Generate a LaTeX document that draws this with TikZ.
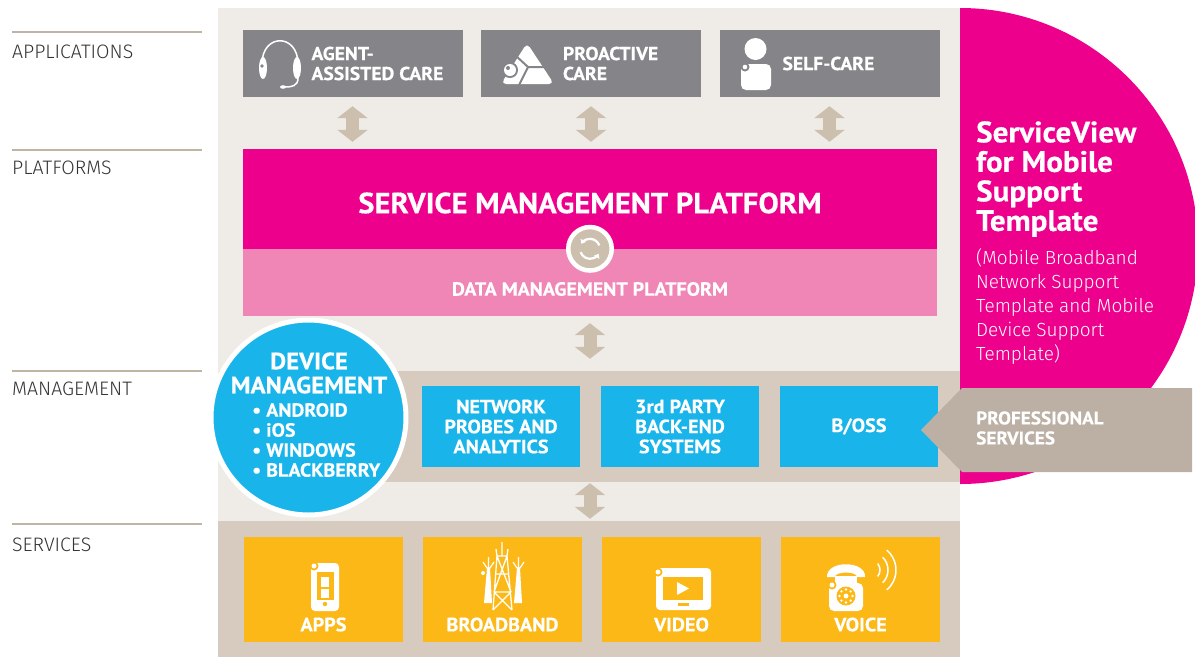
\documentclass[tikz,border=0pt]{standalone}
\usepackage{fontspec}
\setmainfont{PT Sans}[FakeStretch=1.05, BoldFeatures={FakeBold=0.4}]
\newfontfamily\lightfont{Fira Sans Light}
\usetikzlibrary{positioning,arrows.meta}

\definecolor{panelbg}{HTML}{EFECE7}
\definecolor{bandbg}{HTML}{D6CBBE}
\definecolor{arrowcol}{HTML}{CDBFAE}
\definecolor{appgray}{HTML}{858589}
\definecolor{svmagenta}{HTML}{EC008C}
\definecolor{dmpink}{HTML}{F086B5}
\definecolor{mgmtblue}{HTML}{19B5EA}
\definecolor{svcyellow}{HTML}{FBB817}
\definecolor{profcol}{HTML}{BCB0A4}
\definecolor{rulecol}{HTML}{C0B4A5}
\definecolor{labelgray}{HTML}{333333}

\begin{document}
\begin{tikzpicture}[x=1pt, y=-1pt, node distance=179pt,
    layer/.style={fill=bandbg, inner sep=0pt},
    appbox/.style={fill=appgray, minimum width=220pt, minimum height=67pt, inner sep=0pt},
    apptext/.style={text=white, font=\bfseries\fontsize{18.7}{20}\selectfont, align=left, inner sep=0pt, anchor=west},
    mgmtbox/.style={fill=mgmtblue, text=white, font=\bfseries\fontsize{19.2}{20}\selectfont, align=center, minimum width=158pt, minimum height=81pt, inner sep=0pt},
    svcbox/.style={fill=svcyellow, minimum width=159pt, minimum height=105pt, inner sep=0pt},
    svctext/.style={text=white, font=\bfseries\fontsize{19.2}{20}\selectfont, inner sep=0pt},
    layername/.style={text=labelgray, font=\lightfont\fontsize{19.5}{20}\selectfont, anchor=west, inner sep=0pt},
    layerrule/.style={draw=rulecol, line width=2.5pt},
    updown/.style={draw=arrowcol, line width=13pt, {Triangle[width=30pt,length=12pt]}-{Triangle[width=30pt,length=12pt]}}]

    \useasboundingbox (0,0) rectangle (1195,657);

    \draw[layerrule] (12,32) -- (202,32);
    \node (lapps) [layername] at (12,52) {APPLICATIONS};
    \draw[layerrule] (12,150) -- (202,150);
    \node (lplat) [layername] at (12,168) {PLATFORMS};
    \draw[layerrule] (12,371) -- (202,371);
    \node (lmgmt) [layername] at (12,389) {MANAGEMENT};
    \draw[layerrule] (12,524) -- (202,524);
    \node (lsvc) [layername] at (12,545) {SERVICES};

    \node (panel) [fill=panelbg, minimum width=742pt, minimum height=649pt, inner sep=0pt] at (589,332.5) {};
    \node (sband) [layer, minimum width=742pt, minimum height=136pt] at (589,589) {};
    \node (mband) [layer, minimum width=660pt, minimum height=111pt] at (630,426.5) {};

    \fill[svmagenta] (960,8) arc[start angle=90, end angle=-90, radius=238pt] -- cycle;
    \node (svtitle) [anchor=west, text=white, font=\bfseries\fontsize{29.6}{29.5}\selectfont, align=left, inner sep=0pt] at (976,179) {ServiceView\\for Mobile\\Support\\Template};
    \node (svnote) [anchor=west, text=white, font=\lightfont\fontsize{19}{24}\selectfont, align=left, inner sep=0pt] at (976,306.5) {(Mobile Broadband\\Network Support\\Template and Mobile\\Device Support\\Template)};

    \node (agent) [appbox] at (352.5,63.5) {};
    \node (proactive) [appbox, right of=agent, node distance=238.5pt] {};
    \node (selfcare) [appbox, right of=proactive, node distance=238.5pt] {};
    \node [apptext, right=69pt of agent.west] {AGENT-\\ASSISTED CARE};
    \node [apptext, right=82pt of proactive.west] {PROACTIVE\\CARE};
    \node [apptext, right=63pt of selfcare.west] {SELF-CARE};

    \draw[white, line width=1.5pt] (262,64) .. controls (262,33) and (298,33) .. (298,64);
    \fill[white] (263,68) ellipse (4pt and 11pt);
    \fill[white] (297,68) ellipse (4pt and 11pt);
    \draw[white, line width=1.5pt] (298,78) .. controls (298,86) and (292,87) .. (285,87);
    \fill[white] (283,87) ellipse (3pt and 1.8pt);
    \fill[appgray] (262,66) circle (1.8pt);

    \fill[white, rounded corners=5pt] (527,43) -- (554,84) -- (501,84) -- cycle;
    \draw[appgray, line width=2pt] (515,55) -- (528,67) -- (519,85) (528,67) -- (552,67);
    \fill[appgray] (510,70) circle (8pt);
    \fill[white] (510,70) circle (6pt);
    \fill[appgray] (508,68) circle (2pt);

    \fill[white] (755.5,49) circle (11pt);
    \fill[white, rounded corners=5pt] (741,64) rectangle (771,90);
    \fill[appgray] (745,67) circle (4.5pt);
    \fill[white] (745,67) circle (2.3pt);

    \node (smp) [fill=svmagenta, minimum width=694pt, minimum height=100pt, inner sep=0pt] at (590,199) {};
    \node (dmp) [fill=dmpink, minimum width=694pt, minimum height=67pt, inner sep=0pt] at (590,282.5) {};
    \node [text=white, font=\bfseries\fontsize{29.1}{30}\selectfont, inner sep=0pt] at (590,203) {SERVICE MANAGEMENT PLATFORM};
    \node [text=white, font=\bfseries\fontsize{19}{22}\selectfont, inner sep=0pt] at (590,289) {DATA MANAGEMENT PLATFORM};
    \node (sync) [circle, fill=arrowcol, draw=white, line width=4.5pt, minimum size=43.5pt, inner sep=0pt] at (dmp.north) {};
    \draw[white, line width=2.2pt, -{Triangle[width=6pt,length=4pt]}] ([shift={(200:10pt)}]sync.center) arc[start angle=200, end angle=330, radius=10pt];
    \draw[white, line width=2.2pt, -{Triangle[width=6pt,length=4pt]}] ([shift={(20:10pt)}]sync.center) arc[start angle=20, end angle=150, radius=10pt];

    \draw[updown, shorten <=9pt, shorten >=7pt] (agent.south) -- (agent.south |- smp.north);
    \draw[updown, shorten <=9pt, shorten >=7pt] (proactive.south) -- (proactive.south |- smp.north);
    \draw[updown, shorten <=9pt, shorten >=7pt] (selfcare.south) -- (selfcare.south |- smp.north);
    \draw[updown, shorten <=7pt, shorten >=12pt] (dmp.south) -- (dmp.south |- mband.north);
    \draw[updown, shorten <=1pt, shorten >=2pt] (dmp.south |- mband.south) -- (dmp.south |- sband.north);

    \node (probes) [mgmtbox] at (501,426.5) {NETWORK\\PROBES AND\\ANALYTICS};
    \node (thirdparty) [mgmtbox, right of=probes] {3rd PARTY\\BACK-END\\SYSTEMS};
    \node (boss) [mgmtbox, right of=thirdparty] {B/OSS};

    \fill[profcol] (921,430) -- (962,388) -- (1192,388) -- (1192,472) -- (962,472) -- cycle;
    \node (prof) [anchor=west, text=white, font=\bfseries\fontsize{18.3}{20}\selectfont, align=left, inner sep=0pt] at (976,428) {PROFESSIONAL\\SERVICES};

    \node (dm) [circle, fill=mgmtblue, draw=white, line width=5pt, minimum size=195pt, inner sep=0pt] at (308.5,417.5) {};
    \node (dmtitle) [text=white, font=\bfseries\fontsize{23.6}{24}\selectfont, align=center, inner sep=0pt] at (309,373) {DEVICE\\MANAGEMENT};
    \node (dmlist) [anchor=west, text=white, font=\bfseries\fontsize{19}{20}\selectfont, align=left, inner sep=0pt] at (252,440) {• ANDROID\\• iOS\\• WINDOWS\\• BLACKBERRY};

    \node (apps) [svcbox] at (323.5,589.5) {};
    \node (broadband) [svcbox, right of=apps] {};
    \node (video) [svcbox, right of=broadband] {};
    \node (voice) [svcbox, right of=video] {};
    \node [svctext, above=10.5pt of apps.south] {APPS};
    \node [svctext, above=10.5pt of broadband.south] {BROADBAND};
    \node [svctext, above=10.5pt of video.south] {VIDEO};
    \node [svctext, above=10.5pt of voice.south] {VOICE};

    \fill[white, rounded corners=4pt] (311,563) rectangle (339,611);
    \fill[svcyellow] (317,572) rectangle (334,600);
    \fill[white] (321,577) rectangle (329,587);
    \fill[white] (321,589) rectangle (329,598);
    \fill[svcyellow] (325,604) circle (2.2pt);
    \fill[svcyellow] (314,566) circle (4.5pt);
    \fill[white] (314,566) circle (2.5pt);

    \draw[white, line width=1.3pt] (497,556) -- (493,610) (507,556) -- (512,610)
        (497,556) -- (511,592) (507,556) -- (494,592) (495,574) -- (509,574)
        (494,592) -- (512,610) (511,592) -- (493,610) (494,592) -- (511,592)
        (502,542) -- (502,556) (496,549) -- (497,556) -- (507,556) -- (508,549);
    \fill[white] (484,603) -- (487,568) -- (490,568) -- (492,603) -- cycle;
    \fill[white] (514,603) -- (517,568) -- (520,568) -- (522,603) -- cycle;
    \draw[white, line width=1.2pt] (483,562) -- (487,568) -- (490,568) -- (494,562) (488.5,557) -- (488.5,568)
        (513,562) -- (517,568) -- (520,568) -- (524,562) (518.5,557) -- (518.5,568);
    \fill[svcyellow] (483,573) circle (3.5pt);
    \fill[white] (483,573) circle (2pt);

    \fill[white, rounded corners=4pt] (656,568) rectangle (711,610);
    \fill[svcyellow] (663,577) rectangle (703,600);
    \fill[white] (677,582) -- (677,595) -- (689,588.5) -- cycle;
    \fill[svcyellow] (678,603) rectangle (689,605.5);
    \fill[svcyellow] (658,572) circle (4.5pt);
    \fill[white] (658,572) circle (2.5pt);

    \fill[white, rounded corners=5pt] (829,583) rectangle (863,611);
    \fill[white] (827,577) .. controls (826,560) and (866,560) .. (865,577) -- (857,577) .. controls (857,571) and (835,571) .. (835,577) -- cycle;
    \fill[white] (835,576) rectangle (857,584);
    \fill[svcyellow] (846,596) circle (9.5pt);
    \fill[white] (846,596) circle (2.5pt)
        (846,596) +(0:6.5pt) circle (1.3pt) +(45:6.5pt) circle (1.3pt) +(90:6.5pt) circle (1.3pt) +(135:6.5pt) circle (1.3pt)
        +(180:6.5pt) circle (1.3pt) +(225:6.5pt) circle (1.3pt) +(270:6.5pt) circle (1.3pt) +(315:6.5pt) circle (1.3pt);
    \fill[svcyellow] (832,585) circle (4.5pt);
    \fill[white] (832,585) circle (2.5pt);
    \draw[white, line width=1.5pt] (870,570) +(-40:10pt) arc[start angle=-40, end angle=40, radius=10pt]
        (870,570) +(-45:18pt) arc[start angle=-45, end angle=45, radius=18pt]
        (870,570) +(-50:26pt) arc[start angle=-50, end angle=50, radius=26pt];

\end{tikzpicture}
\end{document}
